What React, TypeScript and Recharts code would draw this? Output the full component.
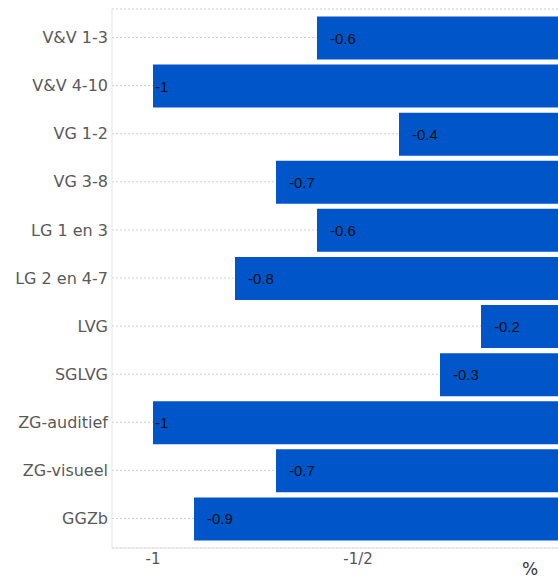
import React from "react";
import { BarChart, Bar, XAxis, YAxis, CartesianGrid, LabelList } from "recharts";

// Categories (top to bottom) and their values in %
const categories = [
  "V&V 1-3",
  "V&V 4-10",
  "VG 1-2",
  "VG 3-8",
  "LG 1 en 3",
  "LG 2 en 4-7",
  "LVG",
  "SGLVG",
  "ZG-auditief",
  "ZG-visueel",
  "GGZb",
];
const values = [-0.6, -1, -0.4, -0.7, -0.6, -0.8, -0.2, -0.3, -1, -0.7, -0.9];

const xTicks = [-1, -0.5];
const xTickLabels = ["-1", "-1/2"];
const unitLabel = "%";

const data = categories.map((name, i) => ({ name, value: values[i] }));

const BAR_COLOR = "#0056c9";
const BORDER = "#e3e3e3";

const ValueLabel = (props: any) => {
  const { x, y, width, height, value } = props;
  const left = Math.min(x, x + width);
  const dx = Number.isInteger(value) ? 2 : 13;
  return (
    <text
      x={left + dx}
      y={y + height / 2}
      dominantBaseline="central"
      fontFamily="'Liberation Sans', Arial, sans-serif"
      fontSize={15}
      fill="#111"
    >
      {String(value)}
    </text>
  );
};

export default function App() {
  return (
    <div
      style={{
        position: "fixed",
        left: 0,
        top: 0,
        width: 558,
        height: 579,
        overflow: "hidden",
        background: "#fff",
      }}
    >
      <BarChart
        width={620}
        height={579}
        data={data}
        layout="vertical"
        margin={{ top: 9, right: 57, left: 0, bottom: 6 }}
      >
        <CartesianGrid
          horizontal
          vertical={false}
          stroke="#cfcfcf"
          strokeDasharray="2 2"
        />
        <XAxis
          type="number"
          domain={[-1.1, 0]}
          ticks={xTicks}
          tickFormatter={(v: number) => xTickLabels[xTicks.indexOf(v)] ?? String(v)}
          axisLine={{ stroke: BORDER }}
          tickLine={false}
          tickSize={0}
          tickMargin={5}
          height={25}
          tick={{ fontFamily: "'DejaVu Sans', Verdana, sans-serif", fontSize: 15, fill: "#555" }}
          allowDataOverflow
        />
        <XAxis
          xAxisId="top"
          orientation="top"
          type="number"
          domain={[-1.1, 0]}
          height={0}
          tick={false}
          tickLine={false}
          axisLine={{ stroke: BORDER }}
        />
        <YAxis
          type="category"
          dataKey="name"
          width={112}
          axisLine={{ stroke: BORDER }}
          tickLine={false}
          tickSize={0}
          tickMargin={4}
          padding={{ top: 4.5, bottom: 5.5 }}
          interval={0}
          tick={{ fontFamily: "'DejaVu Sans', Verdana, sans-serif", fontSize: 16, fill: "#595959" }}
        />
        <Bar dataKey="value" fill={BAR_COLOR} barSize={43} isAnimationActive={false}>
          <LabelList dataKey="value" content={ValueLabel} />
        </Bar>
        <text
          x={530}
          y={575}
          textAnchor="middle"
          fontFamily="'DejaVu Sans', Verdana, sans-serif"
          fontSize={17}
          fill="#333"
        >
          {unitLabel}
        </text>
      </BarChart>
    </div>
  );
}
